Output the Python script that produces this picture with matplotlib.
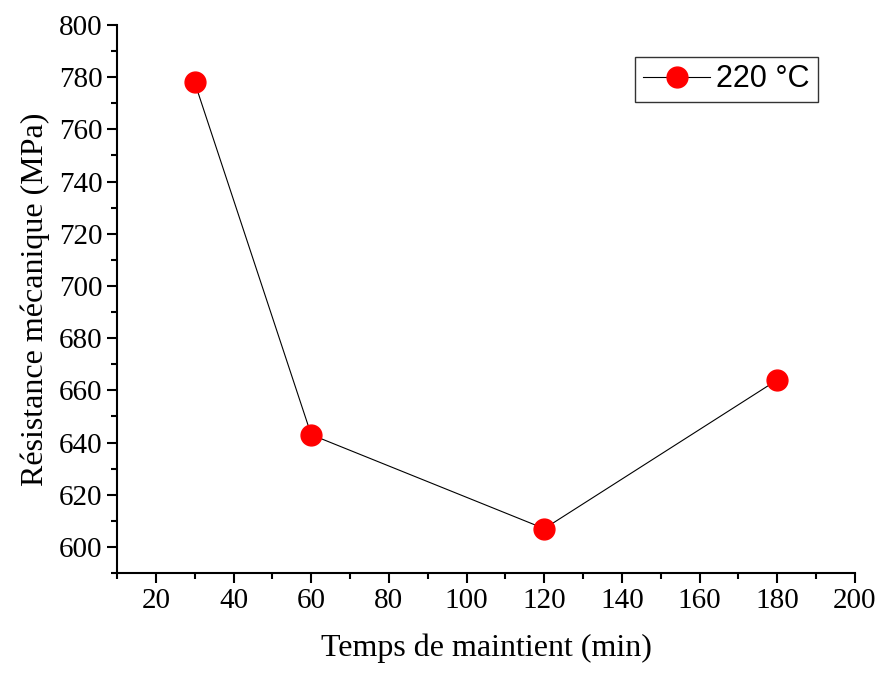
import matplotlib.pyplot as plt
from matplotlib.ticker import MultipleLocator

temps = [30, 60, 120, 180]
resistance = [778, 643, 607, 664]

plt.rcParams['font.family'] = ['Liberation Serif']
fig = plt.figure(figsize=(8.81, 6.76), dpi=100)
ax = fig.add_axes([117 / 881, 1 - 573 / 676, (855 - 117) / 881, (573 - 25) / 676])
ax.plot(temps, resistance, color='black', lw=0.8, marker='o', ms=15,
        markerfacecolor='#ff0000', markeredgecolor='#ff0000', label='220 °C')
ax.set_xlim(10, 200)
ax.set_ylim(590, 800)
ax.xaxis.set_major_locator(MultipleLocator(20))
ax.xaxis.set_minor_locator(MultipleLocator(10))
ax.yaxis.set_major_locator(MultipleLocator(20))
ax.yaxis.set_minor_locator(MultipleLocator(10))
ax.tick_params(which='major', direction='out', length=7, width=1.5, labelsize=21)
ax.tick_params(which='minor', direction='out', length=4, width=1.5)
for s in ['top', 'right']:
    ax.spines[s].set_visible(False)
for s in ['left', 'bottom']:
    ax.spines[s].set_linewidth(1.5)
ax.set_xlabel('Temps de maintient (min)', fontsize=23, labelpad=14)
ax.set_ylabel('Résistance mécanique (MPa)', fontsize=23, labelpad=6)
leg = ax.legend(loc='upper right', bbox_to_anchor=(0.97, 0.97), fancybox=False,
                edgecolor='black', prop={'family': 'Liberation Sans', 'size': 22},
                handlelength=2.2, borderpad=0.25, handletextpad=0.2)
leg.get_frame().set_linewidth(1)
fig.savefig('out.png', dpi=100)
